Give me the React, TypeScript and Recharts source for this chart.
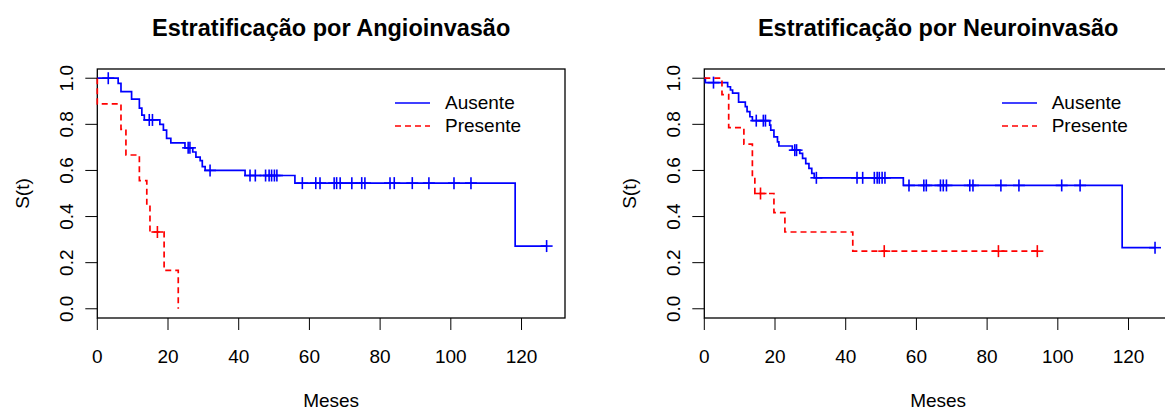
import React from "react";
import {
  ComposedChart, Line, Scatter, XAxis, YAxis, Legend,
} from "recharts";

const xTicks = [0, 20, 40, 60, 80, 100, 120];
const yTicks = [0, 0.2, 0.4, 0.6, 0.8, 1];
const yTickLabels = ["0.0", "0.2", "0.4", "0.6", "0.8", "1.0"];
const groups = ["Ausente", "Presente"];
const titles = ["Estratificação por Angioinvasão", "Estratificação por Neuroinvasão"];
const xLabel = "Meses";
const yLabel = "S(t)";

// Angioinvasão - Ausente
const angioAusT = [0, 5.9, 6.7, 9.7, 11.9, 12.6, 13.3, 17.7, 18.7, 19.6, 20.8, 24.8, 27.0, 27.9, 29.1, 29.7, 30.5, 41.8, 55.9, 118.2];
const angioAusS = [1, 0.978, 0.942, 0.909, 0.87, 0.84, 0.819, 0.8, 0.775, 0.739, 0.72, 0.698, 0.68, 0.658, 0.643, 0.617, 0.6, 0.578, 0.545, 0.272];
const angioAusCens = [3.1, 14.7, 15.6, 25.7, 26.2, 31.9, 43.2, 44.7, 47.6, 48.6, 49.3, 50.1, 50.8, 58.0, 61.8, 63.0, 67.0, 67.7, 68.7, 72.0, 74.8, 75.7, 82.8, 84.0, 89.1, 93.8, 100.9, 105.7, 127.1];

// Angioinvasão - Presente
const angioPreT = [0, 0, 6.7, 8.1, 11.9, 14.0, 14.9, 18.9, 22.9];
const angioPreS = [1, 0.889, 0.778, 0.667, 0.556, 0.444, 0.333, 0.167, 0];
const angioPreCens = [17.0];

// Neuroinvasão - Ausente
const neuroAusT = [0, 0.3, 6.6, 7.4, 8.0, 9.7, 11.6, 12.1, 12.9, 13.6, 18.5, 18.8, 19.7, 20.7, 21.1, 24.9, 27.0, 27.8, 28.7, 29.6, 30.4, 31.1, 56.3, 118.2];
const neuroAusS = [1, 0.981, 0.963, 0.949, 0.935, 0.896, 0.877, 0.855, 0.833, 0.816, 0.797, 0.775, 0.746, 0.724, 0.706, 0.688, 0.674, 0.652, 0.63, 0.609, 0.587, 0.568, 0.535, 0.265];
const neuroAusCens = [2.6, 14.7, 16.7, 17.3, 25.6, 26.1, 31.7, 43.2, 44.8, 48.1, 48.9, 49.5, 50.3, 51.1, 57.9, 62.1, 62.8, 66.8, 67.6, 68.5, 75.1, 76.0, 83.9, 89.0, 101.1, 106.3, 127.5];

// Neuroinvasão - Presente
const neuroPreT = [0, 5.0, 6.9, 11.2, 13.6, 14.3, 19.7, 22.8, 42.0];
const neuroPreS = [1, 0.929, 0.786, 0.714, 0.571, 0.5, 0.417, 0.333, 0.25];
const neuroPreCens = [15.9, 50.9, 83.2, 94.2];

const X_MAX = 132.3;
const BLUE = "#0000ff";
const RED = "#ff0000";
const FONT = "'Liberation Sans', Arial, sans-serif";

type Pt = { t: number; s: number };

function survAt(T: number[], S: number[], t: number) {
  let s = S[0];
  for (let i = 0; i < T.length; i++) if (T[i] <= t) s = S[i];
  return s;
}

function steps(T: number[], S: number[], cens: number[]): Pt[] {
  const pts = T.map((t, i) => ({ t, s: S[i] }));
  const last = Math.max(...cens);
  if (last > T[T.length - 1]) pts.push({ t: last, s: S[S.length - 1] });
  return pts;
}

function marks(T: number[], S: number[], cens: number[]): Pt[] {
  return cens.map((t) => ({ t, s: survAt(T, S, t) }));
}

const cross = (color: string) => (p: any) => {
  const { cx, cy } = p;
  if (cx == null || cy == null) return <g />;
  return (
    <g>
      <line x1={cx - 6} x2={cx + 6} y1={cy} y2={cy} stroke={color} strokeWidth={1.6} />
      <line x1={cx} x2={cx} y1={cy - 6} y2={cy + 6} stroke={color} strokeWidth={1.6} />
    </g>
  );
};

const YTick = (p: any) => {
  const { x, y, payload } = p;
  const i = yTicks.findIndex((v) => Math.abs(v - payload.value) < 1e-9);
  return (
    <text x={x} y={y} transform={`rotate(-90 ${x} ${y})`} textAnchor="middle"
      fontSize={19} fill="#000" fontFamily={FONT}>
      {i >= 0 ? yTickLabels[i] : payload.value}
    </text>
  );
};

const LegendContent = (p: any) => {
  const items = (p.payload || []).filter((e: any) => e.type !== "none");
  return (
    <div style={{ fontSize: 19, fontFamily: FONT, color: "#000" }}>
      {items.map((e: any) => (
        <div key={e.value} style={{ display: "flex", alignItems: "center", height: 23 }}>
          <svg width={50} height={10} style={{ display: "block" }}>
            <line x1={0} x2={35} y1={5} y2={5} stroke={e.color} strokeWidth={1.6}
              strokeDasharray={e.payload?.strokeDasharray} />
          </svg>
          <span>{e.value}</span>
        </div>
      ))}
    </div>
  );
};

function Panel({ left, title, aus, pre }: {
  left: number; title: string;
  aus: [number[], number[], number[]]; pre: [number[], number[], number[]];
}) {
  const W = 590, H = 411;
  const plotL = 97.3, plotR = 565, plotT = 69, plotB = 318;
  const cx = (plotL + plotR) / 2;
  return (
    <div style={{ position: "absolute", left, top: 0, width: W, height: H }}>
      <svg width={W} height={H} style={{ position: "absolute", left: 0, top: 0 }} fontFamily={FONT}>
        <rect x={plotL} y={plotT} width={plotR - plotL} height={plotB - plotT} fill="none" stroke="#000" strokeWidth={1.3} />
        <text x={cx} y={36} textAnchor="middle" fontSize={23.5} fontWeight="bold" fill="#000">{title}</text>
        <text x={cx} y={407} textAnchor="middle" fontSize={19} fill="#000">{xLabel}</text>
        <text x={29} y={193.5} transform="rotate(-90 29 193.5)" textAnchor="middle" fontSize={19} fill="#000">{yLabel}</text>
      </svg>
      <div style={{ position: "absolute", left: 0, top: 0 }}>
        <ComposedChart width={W} height={H} margin={{ top: plotT, right: W - plotR, bottom: H - plotB - 50, left: plotL - 60 }}>
          <XAxis dataKey="t" type="number" domain={[0, X_MAX]} ticks={xTicks} interval={0}
            axisLine={false} tickSize={12} tickMargin={20} height={50}
            tickLine={{ stroke: "#000" }} tick={{ fill: "#000", fontSize: 19, fontFamily: FONT }} />
          <YAxis dataKey="s" type="number" domain={[-0.04, 1.04]} ticks={yTicks} interval={0}
            axisLine={false} tickSize={12} tickMargin={12} width={60}
            tickLine={{ stroke: "#000" }} tick={<YTick />} />
          <Line data={steps(...aus)} dataKey="s" name={groups[0]} type="stepAfter" stroke={BLUE}
            strokeWidth={1.7} dot={false} activeDot={false} isAnimationActive={false} />
          <Line data={steps(...pre)} dataKey="s" name={groups[1]} type="stepAfter" stroke={RED}
            strokeWidth={1.7} strokeDasharray="6 4" dot={false} activeDot={false} isAnimationActive={false} />
          <Scatter data={marks(...aus)} dataKey="s" shape={cross(BLUE)} legendType="none" isAnimationActive={false} />
          <Scatter data={marks(...pre)} dataKey="s" shape={cross(RED)} legendType="none" isAnimationActive={false} />
          <Legend layout="vertical" align="center" verticalAlign="middle" content={<LegendContent />}
            wrapperStyle={{ position: "absolute", left: 395, top: 91, width: "auto" }} />
        </ComposedChart>
      </div>
    </div>
  );
}

export default function App() {
  return (
    <div style={{ position: "absolute", left: 0, top: 0, width: 1165, height: 411, overflow: "hidden", background: "#fff", fontFamily: FONT }}>
      <Panel left={0} title={titles[0]} aus={[angioAusT, angioAusS, angioAusCens]} pre={[angioPreT, angioPreS, angioPreCens]} />
      <Panel left={606.7} title={titles[1]} aus={[neuroAusT, neuroAusS, neuroAusCens]} pre={[neuroPreT, neuroPreS, neuroPreCens]} />
    </div>
  );
}
